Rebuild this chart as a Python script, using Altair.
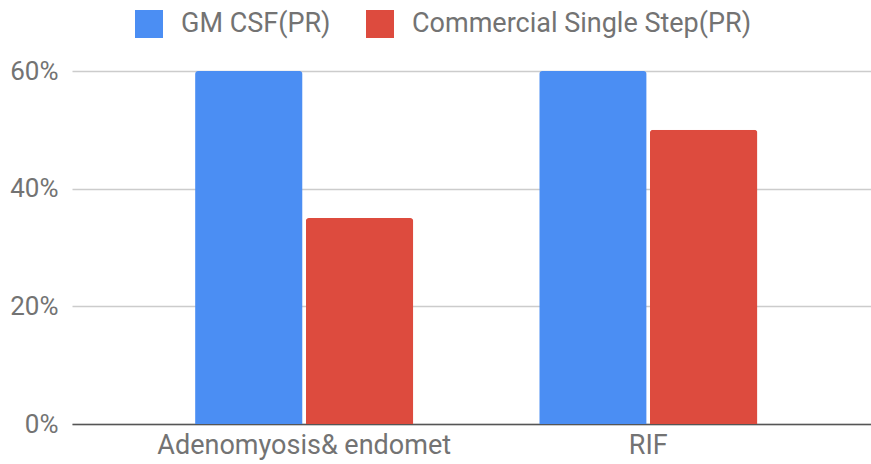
import altair as alt
import pandas as pd

categories = ["Adenomyosis& endomet", "RIF"]
series = ["GM CSF(PR)", "Commercial Single Step(PR)"]
gm_csf = [0.60, 0.60]
commercial = [0.35, 0.50]
colors = ["#4b8ef3", "#dd4b3e"]
y_ticks = [0, 0.2, 0.4, 0.6]

rows = []
for i, c in enumerate(categories):
    rows.append({"category": c, "series": series[0], "value": gm_csf[i]})
    rows.append({"category": c, "series": series[1], "value": commercial[i]})
df = pd.DataFrame(rows)

FONT = "Roboto"
TXT = "#737373"

chart = alt.Chart(df).mark_bar(
    cornerRadiusTopLeft=3, cornerRadiusTopRight=3
).encode(
    x=alt.X(
        "category:N",
        sort=categories,
        title=None,
        scale=alt.Scale(paddingInner=0.366, paddingOuter=0.344, align=0.52),
        axis=alt.Axis(
            labelAngle=0, labelFontSize=27, labelColor=TXT, labelFont=FONT,
            ticks=False, domainColor="#555555", domainWidth=1.5,
            labelPadding=8, grid=False, labelLimit=0,
        ),
    ),
    xOffset=alt.XOffset("series:N", sort=series, scale=alt.Scale(paddingInner=0.03)),
    y=alt.Y(
        "value:Q",
        title=None,
        scale=alt.Scale(domain=[0, 0.6], nice=False),
        axis=alt.Axis(
            values=y_ticks, format=".0%", labelFontSize=26, labelColor=TXT,
            labelFont=FONT, ticks=False, domain=False, labelPadding=14,
            gridColor="#cccccc", gridWidth=1.5,
        ),
    ),
    color=alt.Color(
        "series:N",
        sort=series,
        scale=alt.Scale(domain=series, range=colors),
        legend=alt.Legend(
            title=None, orient="none", direction="horizontal",
            legendX=63, legendY=-61,
            symbolType="square", symbolSize=784, symbolStrokeWidth=0,
            labelFontSize=27, labelColor=TXT, labelFont=FONT,
            labelOffset=18, columnPadding=35, labelLimit=0,
        ),
    ),
).properties(
    width=799, height=353,
    padding={"left": 72, "top": 71, "right": 0, "bottom": 40},
    autosize=alt.AutoSizeParams(type="none"),
).configure_view(stroke=None)

chart.save("out.html", embed_options={"renderer": "svg", "actions": False})
